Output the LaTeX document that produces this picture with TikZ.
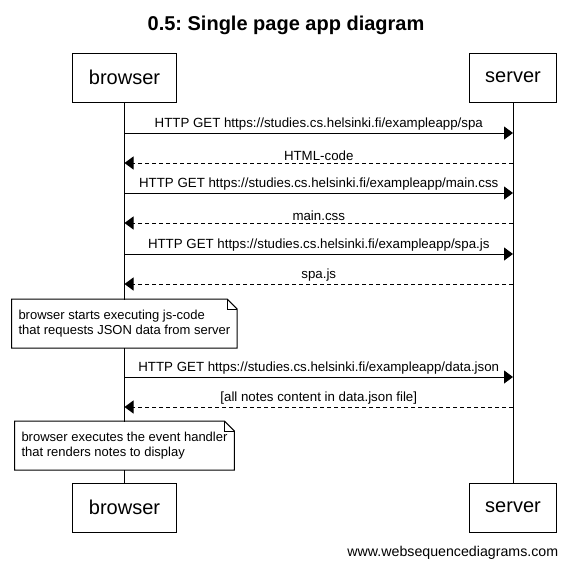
\documentclass[tikz,border=0pt]{standalone}
\usepackage{fontspec}
\setmainfont{Liberation Sans}
\usetikzlibrary{arrows.meta}
\frenchspacing

\begin{document}
\begin{tikzpicture}[x=1pt,y=-1pt,line width=1pt,
    actor/.style={draw,inner xsep=16pt,minimum height=49pt,font=\fontsize{20}{24}\selectfont},
    req/.style={-{Triangle[length=9pt,width=13pt]}},
    resp/.style={req,dash pattern=on 4pt off 3pt},
    msg/.style={midway,above,inner sep=2pt,font=\fontsize{13.3}{15}\selectfont},
    note/.style={fill=white,anchor=north west,inner xsep=6.5pt,align=left,font=\fontsize{13}{15}\selectfont}]
    \useasboundingbox (0,0) rectangle (570,566);
    % title
    \node[anchor=base,font=\fontsize{20}{24}\selectfont\bfseries] (title) at (286,30.7) {0.5: Single page app diagram};
    % participants
    \node[actor] (browser) at (124.5,77.5) {browser};
    \node[actor] (server) at (513,77.5) {server};
    \node[actor] (browserb) at (124.5,507.5) {browser};
    \node[actor] (serverb) at (513,507.5) {server};
    % lifelines
    \draw (browser) -- (browserb);
    \draw (server) -- (serverb);
    % message ends
    \foreach \i/\y in {1/133,2/163,3/193,4/223,5/254,6/284,7/377,8/407} {
        \coordinate (b\i) at (124.5,\y);
        \coordinate (s\i) at (513,\y);
    }
    % messages
    \draw[req] (b1) -- (s1) node[msg] {HTTP GET https://studies.cs.helsinki.fi/exampleapp/spa};
    \draw[resp] (s2) -- (b2) node[msg] {HTML-code};
    \draw[req] (b3) -- (s3) node[msg] {HTTP GET https://studies.cs.helsinki.fi/exampleapp/main.css};
    \draw[resp] (s4) -- (b4) node[msg] {main.css};
    \draw[req] (b5) -- (s5) node[msg] {HTTP GET https://studies.cs.helsinki.fi/exampleapp/spa.js};
    \draw[resp] (s6) -- (b6) node[msg] {spa.js};
    \draw[req] (b7) -- (s7) node[msg] {HTTP GET https://studies.cs.helsinki.fi/exampleapp/data.json};
    \draw[resp] (s8) -- (b8) node[msg] {[all notes content in data.json file]};
    % notes
    \node[note,minimum height=48pt] (note1) at (11.5,299) {browser starts executing js-code\\that requests JSON data from server};
    \node[note,minimum height=48pt] (note2) at (14.5,421) {browser executes the event handler\\that renders notes to display};
    \foreach \n in {note1,note2} {
        \draw (\n.north west) -- ([xshift=-10pt]\n.north east) -- ([yshift=-10pt]\n.north east) -- (\n.south east) -- (\n.south west) -- cycle;
        \draw ([xshift=-10pt]\n.north east) -- ++(0,10) -- ([yshift=-10pt]\n.north east);
    }
    % footer
    \node[anchor=base east,font=\fontsize{14.2}{17}\selectfont] (footer) at (562,556) {www.websequencediagrams.com};
\end{tikzpicture}
\end{document}
